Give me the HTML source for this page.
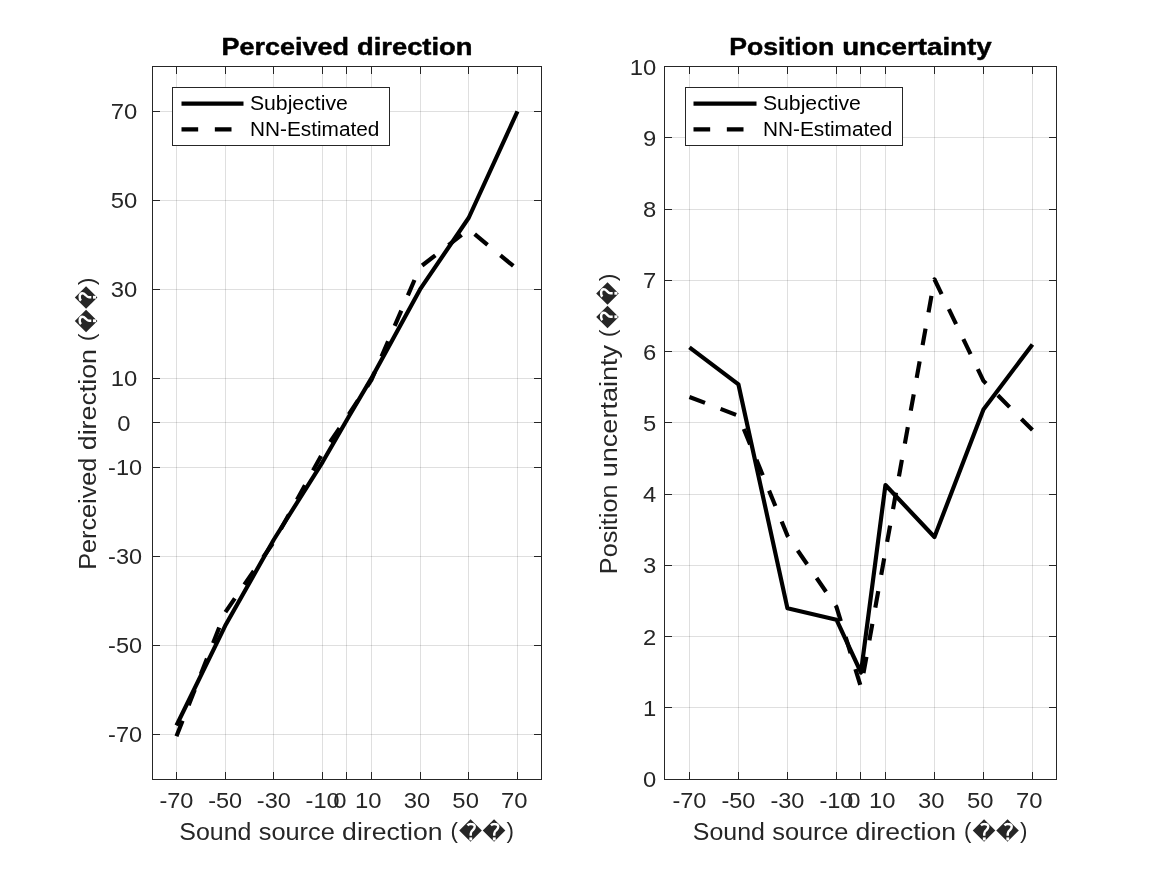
<!DOCTYPE html>
<html lang="en"><head><meta charset="utf-8"><title>Perceived direction / Position uncertainty</title>
<style>html,body{margin:0;padding:0;background:#fff;}body{width:1167px;height:875px;overflow:hidden;}svg{display:block;will-change:transform;font-family:"Liberation Sans",sans-serif;}</style></head><body>
<svg width="1167" height="875" viewBox="0 0 1167 875">
<rect x="0" y="0" width="1167" height="875" fill="#fff"/>
<g id="left-panel">
<line x1="176.5" y1="66.5" x2="176.5" y2="779.5" stroke="#262626" stroke-opacity="0.15" stroke-width="1"/>
<line x1="225.5" y1="66.5" x2="225.5" y2="779.5" stroke="#262626" stroke-opacity="0.15" stroke-width="1"/>
<line x1="273.5" y1="66.5" x2="273.5" y2="779.5" stroke="#262626" stroke-opacity="0.15" stroke-width="1"/>
<line x1="322.5" y1="66.5" x2="322.5" y2="779.5" stroke="#262626" stroke-opacity="0.15" stroke-width="1"/>
<line x1="346.5" y1="66.5" x2="346.5" y2="779.5" stroke="#262626" stroke-opacity="0.15" stroke-width="1"/>
<line x1="371.5" y1="66.5" x2="371.5" y2="779.5" stroke="#262626" stroke-opacity="0.15" stroke-width="1"/>
<line x1="420.5" y1="66.5" x2="420.5" y2="779.5" stroke="#262626" stroke-opacity="0.15" stroke-width="1"/>
<line x1="468.5" y1="66.5" x2="468.5" y2="779.5" stroke="#262626" stroke-opacity="0.15" stroke-width="1"/>
<line x1="517.5" y1="66.5" x2="517.5" y2="779.5" stroke="#262626" stroke-opacity="0.15" stroke-width="1"/>
<line x1="152.5" y1="734.5" x2="541.5" y2="734.5" stroke="#262626" stroke-opacity="0.15" stroke-width="1"/>
<line x1="152.5" y1="645.5" x2="541.5" y2="645.5" stroke="#262626" stroke-opacity="0.15" stroke-width="1"/>
<line x1="152.5" y1="556.5" x2="541.5" y2="556.5" stroke="#262626" stroke-opacity="0.15" stroke-width="1"/>
<line x1="152.5" y1="467.5" x2="541.5" y2="467.5" stroke="#262626" stroke-opacity="0.15" stroke-width="1"/>
<line x1="152.5" y1="422.5" x2="541.5" y2="422.5" stroke="#262626" stroke-opacity="0.15" stroke-width="1"/>
<line x1="152.5" y1="378.5" x2="541.5" y2="378.5" stroke="#262626" stroke-opacity="0.15" stroke-width="1"/>
<line x1="152.5" y1="289.5" x2="541.5" y2="289.5" stroke="#262626" stroke-opacity="0.15" stroke-width="1"/>
<line x1="152.5" y1="200.5" x2="541.5" y2="200.5" stroke="#262626" stroke-opacity="0.15" stroke-width="1"/>
<line x1="152.5" y1="111.5" x2="541.5" y2="111.5" stroke="#262626" stroke-opacity="0.15" stroke-width="1"/>
<polyline points="176.46,725.5 225.17,625.82 273.89,539.49 322.6,462.06 346.96,419.78 371.32,378.4 420.03,289.4 468.75,217.75 517.46,111.4" fill="none" stroke="#000" stroke-width="4.17" stroke-linejoin="round"/>
<polyline points="176.46,736.18 225.17,612.47 273.89,541.71 322.6,453.16 346.96,417.11 371.32,380.18 420.03,267.15 468.75,229.32 517.46,269.38" fill="none" stroke="#000" stroke-width="4.17" stroke-linejoin="round" stroke-dasharray="16.67 16.67" stroke-dashoffset="0"/>
<rect x="152.5" y="66.5" width="389" height="713" fill="none" stroke="#262626" stroke-width="1"/>
<path d="M176.5 779.5V772M176.5 66.5V74M225.5 779.5V772M225.5 66.5V74M273.5 779.5V772M273.5 66.5V74M322.5 779.5V772M322.5 66.5V74M346.5 779.5V772M346.5 66.5V74M371.5 779.5V772M371.5 66.5V74M420.5 779.5V772M420.5 66.5V74M468.5 779.5V772M468.5 66.5V74M517.5 779.5V772M517.5 66.5V74M152.5 734.5H160M541.5 734.5H534M152.5 645.5H160M541.5 645.5H534M152.5 556.5H160M541.5 556.5H534M152.5 467.5H160M541.5 467.5H534M152.5 422.5H160M541.5 422.5H534M152.5 378.5H160M541.5 378.5H534M152.5 289.5H160M541.5 289.5H534M152.5 200.5H160M541.5 200.5H534M152.5 111.5H160M541.5 111.5H534" stroke="#262626" stroke-width="1" fill="none"/>
<text font-size="21.25" fill="#262626"><tspan x="159.45" y="808.1" textLength="34.02" lengthAdjust="spacingAndGlyphs">-70</tspan></text>
<text font-size="21.25" fill="#262626"><tspan x="208.16" y="808.1" textLength="34.02" lengthAdjust="spacingAndGlyphs">-50</tspan></text>
<text font-size="21.25" fill="#262626"><tspan x="256.88" y="808.1" textLength="34.02" lengthAdjust="spacingAndGlyphs">-30</tspan></text>
<text font-size="21.25" fill="#262626"><tspan x="305.59" y="808.1" textLength="34.02" lengthAdjust="spacingAndGlyphs">-10</tspan></text>
<text font-size="21.25" fill="#262626"><tspan x="333.33" y="808.1" textLength="13.25" lengthAdjust="spacingAndGlyphs">0</tspan></text>
<text font-size="21.25" fill="#262626"><tspan x="354.96" y="808.1" textLength="26.51" lengthAdjust="spacingAndGlyphs">10</tspan></text>
<text font-size="21.25" fill="#262626"><tspan x="403.68" y="808.1" textLength="26.51" lengthAdjust="spacingAndGlyphs">30</tspan></text>
<text font-size="21.25" fill="#262626"><tspan x="452.39" y="808.1" textLength="26.51" lengthAdjust="spacingAndGlyphs">50</tspan></text>
<text font-size="21.25" fill="#262626"><tspan x="501.11" y="808.1" textLength="26.51" lengthAdjust="spacingAndGlyphs">70</tspan></text>
<text font-size="21.25" fill="#262626"><tspan x="108.08" y="742" textLength="34.02" lengthAdjust="spacingAndGlyphs">-70</tspan></text>
<text font-size="21.25" fill="#262626"><tspan x="108.08" y="653" textLength="34.02" lengthAdjust="spacingAndGlyphs">-50</tspan></text>
<text font-size="21.25" fill="#262626"><tspan x="108.08" y="564" textLength="34.02" lengthAdjust="spacingAndGlyphs">-30</tspan></text>
<text font-size="21.25" fill="#262626"><tspan x="108.08" y="475" textLength="34.02" lengthAdjust="spacingAndGlyphs">-10</tspan></text>
<text font-size="21.25" fill="#262626"><tspan x="117.15" y="430.5" textLength="13.25" lengthAdjust="spacingAndGlyphs">0</tspan></text>
<text font-size="21.25" fill="#262626"><tspan x="110.79" y="386" textLength="26.51" lengthAdjust="spacingAndGlyphs">10</tspan></text>
<text font-size="21.25" fill="#262626"><tspan x="110.79" y="297" textLength="26.51" lengthAdjust="spacingAndGlyphs">30</tspan></text>
<text font-size="21.25" fill="#262626"><tspan x="110.79" y="208" textLength="26.51" lengthAdjust="spacingAndGlyphs">50</tspan></text>
<text font-size="21.25" fill="#262626"><tspan x="110.79" y="119" textLength="26.51" lengthAdjust="spacingAndGlyphs">70</tspan></text>
<text font-size="23.38" fill="#000" font-weight="bold" stroke="#000" stroke-width="0.45" stroke-linejoin="round"><tspan x="221.46" y="55.1" textLength="127.53" lengthAdjust="spacingAndGlyphs">Perceived</tspan> <tspan x="356.97" y="55.1" textLength="115.57" lengthAdjust="spacingAndGlyphs">direction</tspan></text>
<text font-size="23.38" fill="#262626"><tspan x="179.26" y="840" textLength="72.17" lengthAdjust="spacingAndGlyphs">Sound</tspan> <tspan x="258.72" y="840" textLength="76.11" lengthAdjust="spacingAndGlyphs">source</tspan> <tspan x="342.12" y="840" textLength="100.45" lengthAdjust="spacingAndGlyphs">direction</tspan></text>
<text x="454.32" y="838.3" font-size="22.3" text-anchor="middle" fill="#262626">(</text>
<polygon points="459.26,830.49 470.54,819.21 481.82,830.49 470.54,841.76" fill="#262626"/>
<g transform="translate(470.54 830.49)" aria-label="?"><path d="M-3.1 -5.1C-2.2 -6 -0.8 -6.45 0.5 -6.4C2.8 -6.4 4.2 -5.3 4.2 -3.7C4.2 -2.2 3.2 -1.3 2.2 -0.3C0.9 0.9 0.25 1.5 0.25 2.9L0.2 5.2" fill="none" stroke="#fff" stroke-width="2.45"/><rect x="-1.2" y="6.9" width="2.9" height="3.05" fill="#fff"/></g>
<polygon points="482.77,830.49 494.04,819.21 505.32,830.49 494.04,841.76" fill="#262626"/>
<g transform="translate(494.04 830.49)" aria-label="?"><path d="M-3.1 -5.1C-2.2 -6 -0.8 -6.45 0.5 -6.4C2.8 -6.4 4.2 -5.3 4.2 -3.7C4.2 -2.2 3.2 -1.3 2.2 -0.3C0.9 0.9 0.25 1.5 0.25 2.9L0.2 5.2" fill="none" stroke="#fff" stroke-width="2.45"/><rect x="-1.2" y="6.9" width="2.9" height="3.05" fill="#fff"/></g>
<text x="510.27" y="838.3" font-size="22.3" text-anchor="middle" fill="#262626">)</text>
<rect x="172.5" y="87.5" width="217" height="58" fill="#fff" stroke="#262626" stroke-width="1"/>
<line x1="181.5" y1="103.6" x2="243.5" y2="103.6" stroke="#000" stroke-width="4.17"/>
<line x1="181.5" y1="129.4" x2="243.5" y2="129.4" stroke="#000" stroke-width="4.17" stroke-dasharray="16.67 16.67"/>
<text font-size="20.56" fill="#000"><tspan x="249.9" y="109.8" textLength="97.94" lengthAdjust="spacingAndGlyphs">Subjective</tspan></text>
<text font-size="20.56" fill="#000"><tspan x="249.9" y="135.5" textLength="129.54" lengthAdjust="spacingAndGlyphs">NN-Estimated</tspan></text>
</g>
<g transform="translate(95.6 422.4) rotate(-90)">
<text font-size="23.38" fill="#262626"><tspan x="-147.41" y="0" textLength="112.2" lengthAdjust="spacingAndGlyphs">Perceived</tspan> <tspan x="-27.87" y="0" textLength="101.24" lengthAdjust="spacingAndGlyphs">direction</tspan></text>
<text x="85.19" y="-1.7" font-size="22.3" text-anchor="middle" fill="#262626">(</text>
<polygon points="90.13,-9.51 101.41,-20.79 112.69,-9.51 101.41,1.76" fill="#262626"/>
<g transform="translate(101.41 -9.51)" aria-label="?"><path d="M-3.1 -5.1C-2.2 -6 -0.8 -6.45 0.5 -6.4C2.8 -6.4 4.2 -5.3 4.2 -3.7C4.2 -2.2 3.2 -1.3 2.2 -0.3C0.9 0.9 0.25 1.5 0.25 2.9L0.2 5.2" fill="none" stroke="#fff" stroke-width="2.45"/><rect x="-1.2" y="6.9" width="2.9" height="3.05" fill="#fff"/></g>
<polygon points="113.63,-9.51 124.91,-20.79 136.19,-9.51 124.91,1.76" fill="#262626"/>
<g transform="translate(124.91 -9.51)" aria-label="?"><path d="M-3.1 -5.1C-2.2 -6 -0.8 -6.45 0.5 -6.4C2.8 -6.4 4.2 -5.3 4.2 -3.7C4.2 -2.2 3.2 -1.3 2.2 -0.3C0.9 0.9 0.25 1.5 0.25 2.9L0.2 5.2" fill="none" stroke="#fff" stroke-width="2.45"/><rect x="-1.2" y="6.9" width="2.9" height="3.05" fill="#fff"/></g>
<text x="141.14" y="-1.7" font-size="22.3" text-anchor="middle" fill="#262626">)</text>
</g>
<g id="right-panel">
<line x1="689.5" y1="66.5" x2="689.5" y2="779.5" stroke="#262626" stroke-opacity="0.15" stroke-width="1"/>
<line x1="738.5" y1="66.5" x2="738.5" y2="779.5" stroke="#262626" stroke-opacity="0.15" stroke-width="1"/>
<line x1="787.5" y1="66.5" x2="787.5" y2="779.5" stroke="#262626" stroke-opacity="0.15" stroke-width="1"/>
<line x1="836.5" y1="66.5" x2="836.5" y2="779.5" stroke="#262626" stroke-opacity="0.15" stroke-width="1"/>
<line x1="860.5" y1="66.5" x2="860.5" y2="779.5" stroke="#262626" stroke-opacity="0.15" stroke-width="1"/>
<line x1="885.5" y1="66.5" x2="885.5" y2="779.5" stroke="#262626" stroke-opacity="0.15" stroke-width="1"/>
<line x1="934.5" y1="66.5" x2="934.5" y2="779.5" stroke="#262626" stroke-opacity="0.15" stroke-width="1"/>
<line x1="983.5" y1="66.5" x2="983.5" y2="779.5" stroke="#262626" stroke-opacity="0.15" stroke-width="1"/>
<line x1="1032.5" y1="66.5" x2="1032.5" y2="779.5" stroke="#262626" stroke-opacity="0.15" stroke-width="1"/>
<line x1="664.5" y1="707.5" x2="1056.5" y2="707.5" stroke="#262626" stroke-opacity="0.15" stroke-width="1"/>
<line x1="664.5" y1="636.5" x2="1056.5" y2="636.5" stroke="#262626" stroke-opacity="0.15" stroke-width="1"/>
<line x1="664.5" y1="565.5" x2="1056.5" y2="565.5" stroke="#262626" stroke-opacity="0.15" stroke-width="1"/>
<line x1="664.5" y1="494.5" x2="1056.5" y2="494.5" stroke="#262626" stroke-opacity="0.15" stroke-width="1"/>
<line x1="664.5" y1="422.5" x2="1056.5" y2="422.5" stroke="#262626" stroke-opacity="0.15" stroke-width="1"/>
<line x1="664.5" y1="351.5" x2="1056.5" y2="351.5" stroke="#262626" stroke-opacity="0.15" stroke-width="1"/>
<line x1="664.5" y1="280.5" x2="1056.5" y2="280.5" stroke="#262626" stroke-opacity="0.15" stroke-width="1"/>
<line x1="664.5" y1="209.5" x2="1056.5" y2="209.5" stroke="#262626" stroke-opacity="0.15" stroke-width="1"/>
<line x1="664.5" y1="137.5" x2="1056.5" y2="137.5" stroke="#262626" stroke-opacity="0.15" stroke-width="1"/>
<polyline points="689.45,347.37 738.45,384.45 787.45,608.33 836.45,619.74 860.95,672.5 885.45,484.98 934.45,537.03 983.45,409.4 1032.45,344.52" fill="none" stroke="#000" stroke-width="4.17" stroke-linejoin="round"/>
<polyline points="689.45,396.93 738.45,415.82 787.45,535.6 836.45,606.9 860.95,687.26 885.45,551.29 934.45,279.28 983.45,380.88 1032.45,430.08" fill="none" stroke="#000" stroke-width="4.17" stroke-linejoin="round" stroke-dasharray="16.67 16.67" stroke-dashoffset="0"/>
<rect x="664.5" y="66.5" width="392" height="713" fill="none" stroke="#262626" stroke-width="1"/>
<path d="M689.5 779.5V772M689.5 66.5V74M738.5 779.5V772M738.5 66.5V74M787.5 779.5V772M787.5 66.5V74M836.5 779.5V772M836.5 66.5V74M860.5 779.5V772M860.5 66.5V74M885.5 779.5V772M885.5 66.5V74M934.5 779.5V772M934.5 66.5V74M983.5 779.5V772M983.5 66.5V74M1032.5 779.5V772M1032.5 66.5V74M664.5 707.5H672M1056.5 707.5H1049M664.5 636.5H672M1056.5 636.5H1049M664.5 565.5H672M1056.5 565.5H1049M664.5 494.5H672M1056.5 494.5H1049M664.5 422.5H672M1056.5 422.5H1049M664.5 351.5H672M1056.5 351.5H1049M664.5 280.5H672M1056.5 280.5H1049M664.5 209.5H672M1056.5 209.5H1049M664.5 137.5H672M1056.5 137.5H1049" stroke="#262626" stroke-width="1" fill="none"/>
<text font-size="21.25" fill="#262626"><tspan x="672.44" y="808.1" textLength="34.02" lengthAdjust="spacingAndGlyphs">-70</tspan></text>
<text font-size="21.25" fill="#262626"><tspan x="721.44" y="808.1" textLength="34.02" lengthAdjust="spacingAndGlyphs">-50</tspan></text>
<text font-size="21.25" fill="#262626"><tspan x="770.44" y="808.1" textLength="34.02" lengthAdjust="spacingAndGlyphs">-30</tspan></text>
<text font-size="21.25" fill="#262626"><tspan x="819.44" y="808.1" textLength="34.02" lengthAdjust="spacingAndGlyphs">-10</tspan></text>
<text font-size="21.25" fill="#262626"><tspan x="847.32" y="808.1" textLength="13.25" lengthAdjust="spacingAndGlyphs">0</tspan></text>
<text font-size="21.25" fill="#262626"><tspan x="869.1" y="808.1" textLength="26.51" lengthAdjust="spacingAndGlyphs">10</tspan></text>
<text font-size="21.25" fill="#262626"><tspan x="918.1" y="808.1" textLength="26.51" lengthAdjust="spacingAndGlyphs">30</tspan></text>
<text font-size="21.25" fill="#262626"><tspan x="967.1" y="808.1" textLength="26.51" lengthAdjust="spacingAndGlyphs">50</tspan></text>
<text font-size="21.25" fill="#262626"><tspan x="1016.1" y="808.1" textLength="26.51" lengthAdjust="spacingAndGlyphs">70</tspan></text>
<text font-size="21.25" fill="#262626"><tspan x="642.95" y="787.1" textLength="13.25" lengthAdjust="spacingAndGlyphs">0</tspan></text>
<text font-size="21.25" fill="#262626"><tspan x="642.95" y="715.85" textLength="13.25" lengthAdjust="spacingAndGlyphs">1</tspan></text>
<text font-size="21.25" fill="#262626"><tspan x="642.95" y="644.6" textLength="13.25" lengthAdjust="spacingAndGlyphs">2</tspan></text>
<text font-size="21.25" fill="#262626"><tspan x="642.95" y="573.35" textLength="13.25" lengthAdjust="spacingAndGlyphs">3</tspan></text>
<text font-size="21.25" fill="#262626"><tspan x="642.95" y="502.1" textLength="13.25" lengthAdjust="spacingAndGlyphs">4</tspan></text>
<text font-size="21.25" fill="#262626"><tspan x="642.95" y="430.85" textLength="13.25" lengthAdjust="spacingAndGlyphs">5</tspan></text>
<text font-size="21.25" fill="#262626"><tspan x="642.95" y="359.6" textLength="13.25" lengthAdjust="spacingAndGlyphs">6</tspan></text>
<text font-size="21.25" fill="#262626"><tspan x="642.95" y="288.35" textLength="13.25" lengthAdjust="spacingAndGlyphs">7</tspan></text>
<text font-size="21.25" fill="#262626"><tspan x="642.95" y="217.1" textLength="13.25" lengthAdjust="spacingAndGlyphs">8</tspan></text>
<text font-size="21.25" fill="#262626"><tspan x="642.95" y="145.85" textLength="13.25" lengthAdjust="spacingAndGlyphs">9</tspan></text>
<text font-size="21.25" fill="#262626"><tspan x="629.69" y="74.6" textLength="26.51" lengthAdjust="spacingAndGlyphs">10</tspan></text>
<text font-size="23.38" fill="#000" font-weight="bold" stroke="#000" stroke-width="0.45" stroke-linejoin="round"><tspan x="729.27" y="55.1" textLength="104.92" lengthAdjust="spacingAndGlyphs">Position</tspan> <tspan x="842.17" y="55.1" textLength="149.56" lengthAdjust="spacingAndGlyphs">uncertainty</tspan></text>
<text font-size="23.38" fill="#262626"><tspan x="692.76" y="840" textLength="72.17" lengthAdjust="spacingAndGlyphs">Sound</tspan> <tspan x="772.22" y="840" textLength="76.11" lengthAdjust="spacingAndGlyphs">source</tspan> <tspan x="855.62" y="840" textLength="100.45" lengthAdjust="spacingAndGlyphs">direction</tspan></text>
<text x="967.82" y="838.3" font-size="22.3" text-anchor="middle" fill="#262626">(</text>
<polygon points="972.76,830.49 984.04,819.21 995.32,830.49 984.04,841.76" fill="#262626"/>
<g transform="translate(984.04 830.49)" aria-label="?"><path d="M-3.1 -5.1C-2.2 -6 -0.8 -6.45 0.5 -6.4C2.8 -6.4 4.2 -5.3 4.2 -3.7C4.2 -2.2 3.2 -1.3 2.2 -0.3C0.9 0.9 0.25 1.5 0.25 2.9L0.2 5.2" fill="none" stroke="#fff" stroke-width="2.45"/><rect x="-1.2" y="6.9" width="2.9" height="3.05" fill="#fff"/></g>
<polygon points="996.27,830.49 1007.54,819.21 1018.82,830.49 1007.54,841.76" fill="#262626"/>
<g transform="translate(1007.54 830.49)" aria-label="?"><path d="M-3.1 -5.1C-2.2 -6 -0.8 -6.45 0.5 -6.4C2.8 -6.4 4.2 -5.3 4.2 -3.7C4.2 -2.2 3.2 -1.3 2.2 -0.3C0.9 0.9 0.25 1.5 0.25 2.9L0.2 5.2" fill="none" stroke="#fff" stroke-width="2.45"/><rect x="-1.2" y="6.9" width="2.9" height="3.05" fill="#fff"/></g>
<text x="1023.77" y="838.3" font-size="22.3" text-anchor="middle" fill="#262626">)</text>
<rect x="685.5" y="87.5" width="217" height="58" fill="#fff" stroke="#262626" stroke-width="1"/>
<line x1="693.5" y1="103.6" x2="756.5" y2="103.6" stroke="#000" stroke-width="4.17"/>
<line x1="693.5" y1="129.4" x2="756.5" y2="129.4" stroke="#000" stroke-width="4.17" stroke-dasharray="16.67 16.67"/>
<text font-size="20.56" fill="#000"><tspan x="762.9" y="109.8" textLength="97.94" lengthAdjust="spacingAndGlyphs">Subjective</tspan></text>
<text font-size="20.56" fill="#000"><tspan x="762.9" y="135.5" textLength="129.54" lengthAdjust="spacingAndGlyphs">NN-Estimated</tspan></text>
</g>
<g transform="translate(617 423) rotate(-90)">
<text font-size="23.38" fill="#262626"><tspan x="-151.18" y="0" textLength="89.62" lengthAdjust="spacingAndGlyphs">Position</tspan> <tspan x="-54.24" y="0" textLength="132.22" lengthAdjust="spacingAndGlyphs">uncertainty</tspan></text>
<text x="89.76" y="-1.7" font-size="22.3" text-anchor="middle" fill="#262626">(</text>
<polygon points="94.7,-9.51 105.98,-20.79 117.26,-9.51 105.98,1.76" fill="#262626"/>
<g transform="translate(105.98 -9.51)" aria-label="?"><path d="M-3.1 -5.1C-2.2 -6 -0.8 -6.45 0.5 -6.4C2.8 -6.4 4.2 -5.3 4.2 -3.7C4.2 -2.2 3.2 -1.3 2.2 -0.3C0.9 0.9 0.25 1.5 0.25 2.9L0.2 5.2" fill="none" stroke="#fff" stroke-width="2.45"/><rect x="-1.2" y="6.9" width="2.9" height="3.05" fill="#fff"/></g>
<polygon points="118.21,-9.51 129.48,-20.79 140.76,-9.51 129.48,1.76" fill="#262626"/>
<g transform="translate(129.48 -9.51)" aria-label="?"><path d="M-3.1 -5.1C-2.2 -6 -0.8 -6.45 0.5 -6.4C2.8 -6.4 4.2 -5.3 4.2 -3.7C4.2 -2.2 3.2 -1.3 2.2 -0.3C0.9 0.9 0.25 1.5 0.25 2.9L0.2 5.2" fill="none" stroke="#fff" stroke-width="2.45"/><rect x="-1.2" y="6.9" width="2.9" height="3.05" fill="#fff"/></g>
<text x="145.71" y="-1.7" font-size="22.3" text-anchor="middle" fill="#262626">)</text>
</g>
</svg></body></html>
